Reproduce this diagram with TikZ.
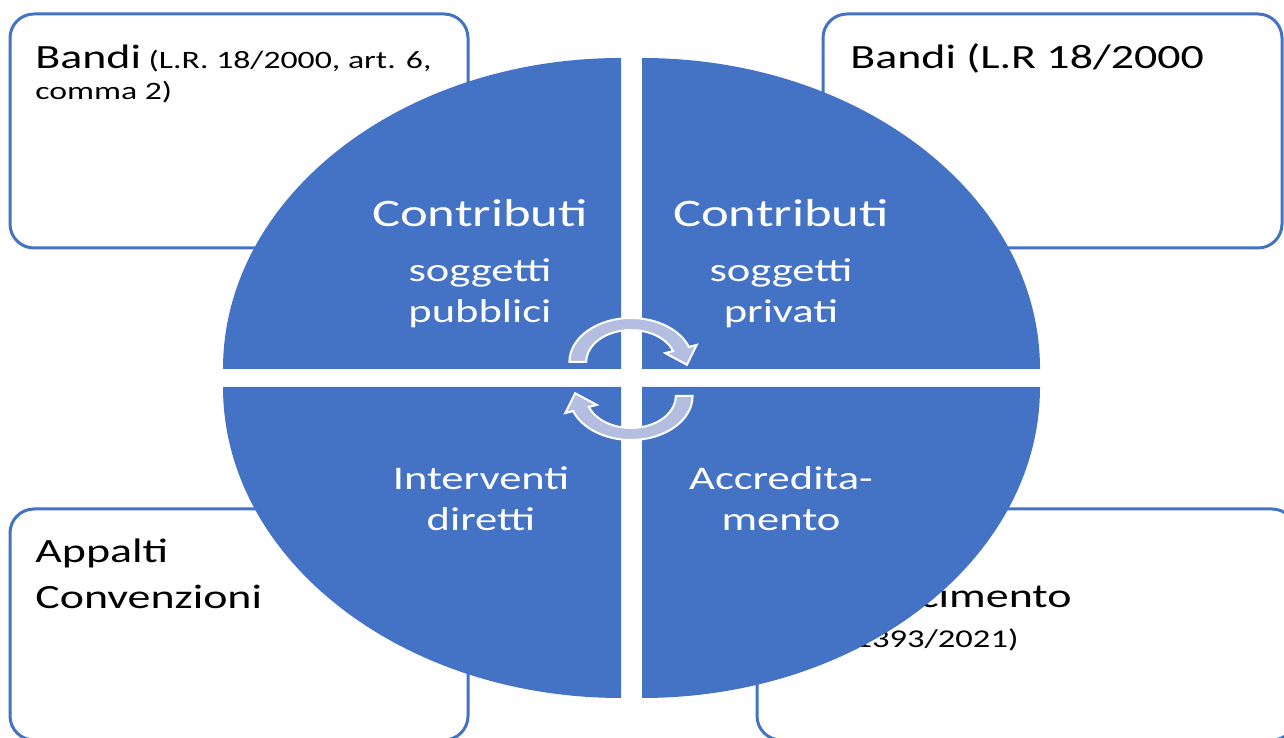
\documentclass[tikz,border=0pt]{standalone}
\usepackage{fontspec}
\setmainfont{Carlito}[FakeStretch=1.35]
\definecolor{matrixblue}{RGB}{68,114,196}
\definecolor{cyclefill}{RGB}{180,190,225}

\begin{document}
\begin{tikzpicture}[x=0.5pt, y=0.5pt,
    corner/.style={draw=matrixblue, line width=1.5pt, rounded corners=12pt, fill=white},
    quarter/.style={fill=matrixblue},
    cornertext/.style={anchor=base west, align=left, inner sep=0pt, font=\fontsize{17}{23}\selectfont},
    quartertext/.style={anchor=base, align=center, inner sep=0pt, text=white, font=\fontsize{16.5}{20.5}\selectfont},
    titletext/.style={anchor=base, inner sep=0pt, text=white, font=\fontsize{19.5}{23}\selectfont},
    cyclearrow/.style={fill=cyclefill, draw=white, line width=1pt}]
  \clip (0,0) rectangle (1284,738);
  % corner boxes
  \draw[corner] (10,490) rectangle (468,724);
  \draw[corner] (823,490) rectangle (1282,724);
  \draw[corner] (10,-2) rectangle (468,229);
  \draw[corner] (757,-2) rectangle (1296,229);
  % base of a node with two lines = base of its last line
  \node[cornertext, font=\fontsize{12.5}{15.5}\selectfont] (bandiA) at (35,638)
    {{\fontsize{17}{20}\selectfont Bandi} (L.R. 18/2000, art. 6,\\comma 2)};
  \node[cornertext] (bandiB) at (850,669) {Bandi (L.R 18/2000};
  \node[cornertext] (appalti) at (35,129) {Appalti\\Convenzioni};
  \node[cornertext, font=\fontsize{17}{20}\selectfont] (ricon) at (774,90)
    {Riconoscimento\\{\fontsize{12.8}{20}\selectfont (DGR 1393/2021)}};
  % quarters of the ellipse
  \fill[quarter] (621,369) -- (223,369) arc[start angle=180, end angle=90, x radius=398, y radius=311] -- cycle;
  \fill[quarter] (642,369) -- (642,680) arc[start angle=90, end angle=0, x radius=398, y radius=311] -- cycle;
  \fill[quarter] (621,351) -- (621,40) arc[start angle=270, end angle=180, x radius=398, y radius=311] -- cycle;
  \fill[quarter] (642,351) -- (1040,351) arc[start angle=0, end angle=-90, x radius=398, y radius=311] -- cycle;
  \node[titletext] (pubT) at (480,511) {Contributi};
  \node[quartertext] (pub) at (480,415) {soggetti\\pubblici};
  \node[titletext] (privT) at (781,511) {Contributi};
  \node[quartertext] (priv) at (781,415) {soggetti\\privati};
  \node[quartertext] (dir) at (481,207) {Interventi\\diretti};
  \node[quartertext] (accr) at (781,207) {Accredita-\\mento};
  % circular arrows
  \begin{scope}[shift={(631,376)}, xscale=1.4]
    \draw[cyclearrow] (180:44) arc[start angle=180, end angle=20, radius=44]
      -- (20:50) -- (-4:40) -- (20:26) -- (20:32)
      arc[start angle=20, end angle=180, radius=32] -- cycle;
  \end{scope}
  \begin{scope}[shift={(631,342)}, rotate=180, xscale=1.4]
    \draw[cyclearrow] (180:44) arc[start angle=180, end angle=20, radius=44]
      -- (20:50) -- (-4:40) -- (20:26) -- (20:32)
      arc[start angle=20, end angle=180, radius=32] -- cycle;
  \end{scope}
\end{tikzpicture}
\end{document}
